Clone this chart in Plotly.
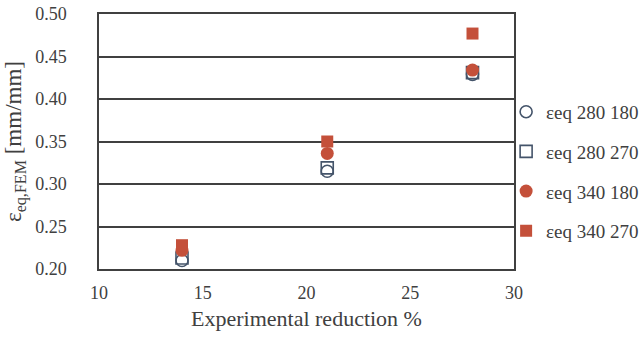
import plotly.graph_objects as go

x_vals = [14, 21, 28]
s280_180 = [0.210, 0.315, 0.429]
s280_270 = [0.213, 0.319, 0.431]
s340_180 = [0.222, 0.336, 0.434]
s340_270 = [0.228, 0.350, 0.477]
names = ["εeq 280 180", "εeq 280 270", "εeq 340 180", "εeq 340 270"]

blue = "#44546A"
red = "#C4503A"
FONT = "Liberation Serif"
TXT = "#404040"

series = [
    (s280_180, names[0], dict(symbol="circle-open", color=blue, size=12, line=dict(width=1.6, color=blue))),
    (s280_270, names[1], dict(symbol="square-open", color=blue, size=12, line=dict(width=1.6, color=blue))),
    (s340_180, names[2], dict(symbol="circle", color=red, size=13, line=dict(width=0))),
    (s340_270, names[3], dict(symbol="square", color=red, size=12, line=dict(width=0))),
]

fig = go.Figure()
for i, (ys, nm, mk) in enumerate(series):
    fig.add_trace(go.Scatter(x=x_vals, y=ys, mode="markers", name=nm, marker=mk,
                             legendgroup=str(i)))

fig.update_layout(
    template="none",
    width=641, height=340,
    margin=dict(l=99, r=127, t=14, b=71, autoexpand=False),
    paper_bgcolor="white", plot_bgcolor="white",
    font=dict(family=FONT, color=TXT, size=18),
    showlegend=True,
    legend=dict(x=0.981, y=0.383, xanchor="left", yanchor="middle",
                font=dict(family=FONT, size=19, color=TXT),
                traceorder="grouped", tracegroupgap=12,
                itemwidth=30, bgcolor="rgba(0,0,0,0)"),
)
fig.update_xaxes(range=[10, 30], dtick=5, showgrid=False, zeroline=False,
                 showline=True, linecolor=TXT, linewidth=1.5, mirror=True,
                 ticks="", tickfont=dict(size=18, family=FONT, color=TXT),
                 ticklabelstandoff=7, automargin=False,
                 title=dict(text="Experimental reduction %", font=dict(size=22, family=FONT, color=TXT), standoff=8))
fig.update_yaxes(range=[0.20, 0.50], dtick=0.05, tickformat=".2f",
                 showgrid=True, gridcolor=TXT, gridwidth=1.5, zeroline=False,
                 showline=True, linecolor=TXT, linewidth=1.5, mirror=True,
                 ticks="", tickfont=dict(size=18, family=FONT, color=TXT),
                 ticklabelstandoff=27, automargin=False,
                 title=dict(text="ε<sub>eq,FEM</sub> [mm/mm]", font=dict(size=23, family=FONT, color=TXT), standoff=7))

fig.write_html("out.html")
